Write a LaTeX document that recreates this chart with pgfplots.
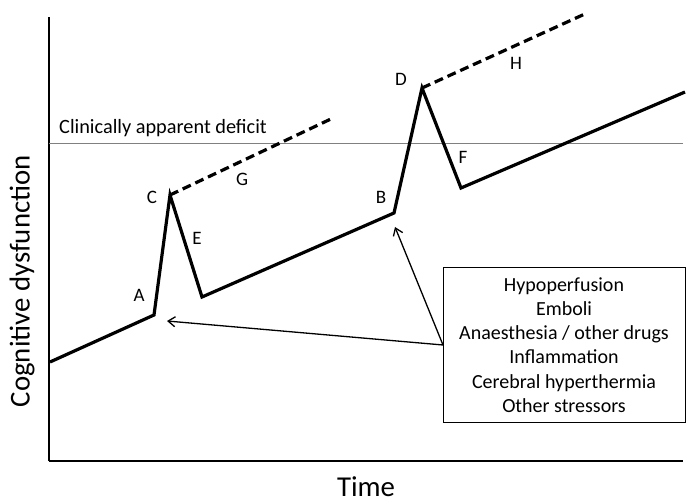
\documentclass[border=0pt]{standalone}
\usepackage{fontspec}
\setmainfont{Carlito}
\usepackage{pgfplots}
\pgfplotsset{compat=1.18}
\usetikzlibrary{arrows.meta}
\begin{document}
\begin{tikzpicture}
\begin{axis}[
  x=1pt, y=1pt,
  xmin=49, xmax=683, ymin=43, ymax=487,
  axis lines=left,
  axis line style={-, line width=2.8pt},
  xtick=\empty, ytick=\empty,
  clip=false,
  xlabel={Time}, ylabel={Cognitive dysfunction},
  label style={font=\fontsize{28.8}{34}\selectfont, inner sep=0pt},
  xlabel style={at={(axis description cs:0.5,-0.0586)}, anchor=center},
  ylabel style={at={(axis description cs:-0.0426,0.405)}, anchor=center},
]
% clinical threshold
\addplot[color=gray, line width=1pt] coordinates {(49,360) (683,360)};
% main trajectory
\addplot[black, line width=3.2pt, line join=miter] coordinates {
  (50,142) (154,189) (170,309) (202,207) (394,291) (422,416) (461,316) (685,412)};
% dashed trajectories
\addplot[black, line width=3.2pt, dash pattern=on 9pt off 5pt] coordinates {(170,309) (333,386)};
\addplot[black, line width=3.2pt, dash pattern=on 9pt off 5pt] coordinates {(422,416) (587,491)};

\node[anchor=west, inner sep=0pt, font=\fontsize{20.3}{24}\selectfont] at (axis cs:59,376) {Clinically apparent deficit};

\node[font=\fontsize{19}{22}\selectfont, inner sep=0pt] at (axis cs:152,307) {C};
\node[font=\fontsize{19}{22}\selectfont, inner sep=0pt] at (axis cs:242,325) {G};
\node[font=\fontsize{19}{22}\selectfont, inner sep=0pt] at (axis cs:197,266) {E};
\node[font=\fontsize{19}{22}\selectfont, inner sep=0pt] at (axis cs:139,209) {A};
\node[font=\fontsize{19}{22}\selectfont, inner sep=0pt] at (axis cs:381,307) {B};
\node[font=\fontsize{19}{22}\selectfont, inner sep=0pt] at (axis cs:401,425) {D};
\node[font=\fontsize{19}{22}\selectfont, inner sep=0pt] at (axis cs:463,347) {F};
\node[font=\fontsize{19}{22}\selectfont, inner sep=0pt] at (axis cs:516,441) {H};

\node[draw, line width=1pt, align=center, inner sep=0pt,
      minimum width=242pt, minimum height=154pt,
      font=\fontsize{20}{24.3}\selectfont] at (axis cs:564,159)
  {Hypoperfusion\\Emboli\\Anaesthesia / other drugs\\Inflammation\\Cerebral hyperthermia\\Other stressors};

\draw[-{Straight Barb[length=7pt,width=10pt]}, line width=1.3pt] (axis cs:443,159) -- (axis cs:167,183);
\draw[-{Straight Barb[length=7pt,width=10pt]}, line width=1.3pt] (axis cs:443,159) -- (axis cs:395,277);

\coordinate (ll) at (axis cs:0,0);
\coordinate (ur) at (axis cs:689,504);
\end{axis}
\pgfresetboundingbox
\path (ll) rectangle (ur);
\end{tikzpicture}
\end{document}
